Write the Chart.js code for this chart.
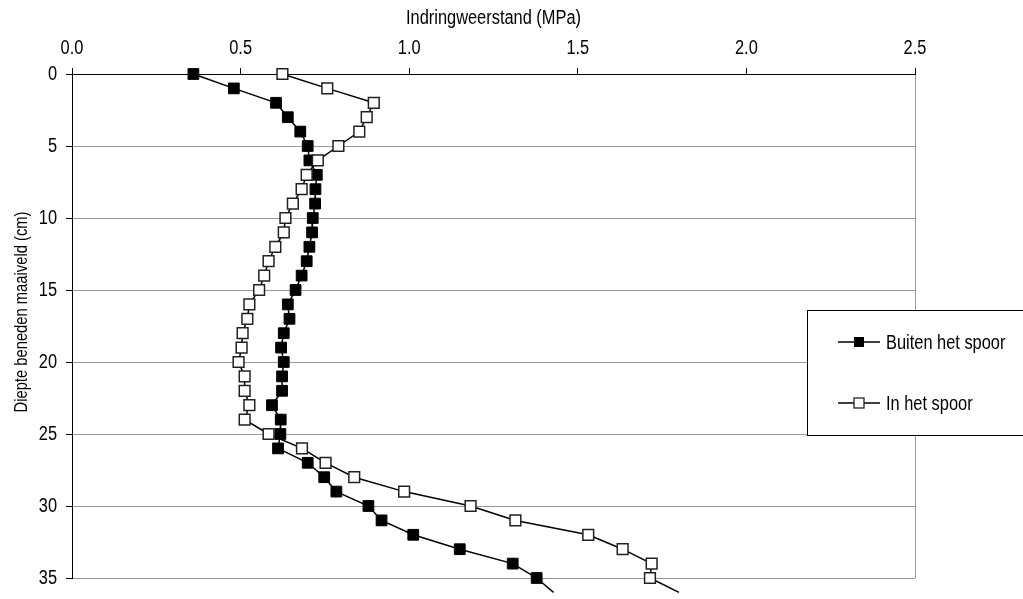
<!DOCTYPE html>
<html>
<head>
<meta charset="utf-8">
<script src="https://cdn.jsdelivr.net/npm/chart.js@4/dist/chart.umd.min.js"></script>
<style>
  html, body { margin: 0; padding: 0; background: #fff; overflow: hidden; }
  #wrap { width: 1023px; height: 599px; position: relative; }
</style>
</head>
<body>
<div id="wrap"><canvas id="c" width="1023" height="599"></canvas></div>
<script>
// ---- Data ----
const depthCm = [0,1,2,3,4,5,6,7,8,9,10,11,12,13,14,15,16,17,18,19,20,21,22,23,24,25,26,27,28,29,30,31,32,33,34,35,36];
const buitenHetSpoor = [0.360,0.480,0.605,0.640,0.677,0.699,0.704,0.726,0.722,0.721,0.714,0.712,0.704,0.696,0.681,0.663,0.640,0.645,0.628,0.620,0.628,0.623,0.623,0.593,0.619,0.618,0.611,0.699,0.748,0.784,0.879,0.918,1.012,1.150,1.307,1.378,1.428];
const inHetSpoor = [0.624,0.757,0.895,0.874,0.852,0.790,0.729,0.696,0.681,0.655,0.633,0.628,0.603,0.583,0.570,0.555,0.526,0.520,0.506,0.503,0.494,0.512,0.512,0.526,0.512,0.583,0.682,0.752,0.837,0.985,1.182,1.315,1.531,1.633,1.719,1.714,1.800];
const seriesNames = ['Buiten het spoor', 'In het spoor'];
const xTitle = 'Indringweerstand (MPa)';
const yTitle = 'Diepte beneden maaiveld (cm)';
const xTicks = [0, 0.5, 1.0, 1.5, 2.0, 2.5];
const yTicks = [0, 5, 10, 15, 20, 25, 30, 35];

const FONT = "'Liberation Sans', Arial, sans-serif";
const NARROW = 0.82; // emulate a narrow (condensed) face

const canvas = document.getElementById('c');
const ctx2d = canvas.getContext('2d');
// condense all text horizontally around its anchor point
(function () {
  const orig = ctx2d.fillText;
  ctx2d.fillText = function (t, x, y, mw) {
    this.save();
    this.translate(x, y);
    this.scale(NARROW, 1);
    if (mw === undefined) orig.call(this, t, 0, 0);
    else orig.call(this, t, 0, 0, mw / NARROW);
    this.restore();
  };
})();

const toPoints = (vals) => vals.map((v, i) => ({ x: v, y: depthCm[i] }));
const radii = depthCm.map(d => d <= 35 ? 7.6 : 0);

// custom plugin: y title + legend box
const extras = {
  id: 'extras',
  afterDraw(chart) {
    const ctx = chart.ctx;
    ctx.save();
    ctx.fillStyle = '#000';
    ctx.font = '18px ' + FONT;
    ctx.textAlign = 'center';
    ctx.textBaseline = 'middle';
    ctx.translate(22, 312);
    ctx.rotate(-Math.PI / 2);
    ctx.fillText(yTitle, 0, 0);
    ctx.restore();

    ctx.save();
    ctx.strokeStyle = '#000';
    ctx.lineWidth = 1;
    ctx.fillStyle = '#fff';
    ctx.fillRect(807.5, 310.5, 260, 125);
    ctx.strokeRect(807.5, 310.5, 260, 125);
    const rows = [342, 403];
    rows.forEach((y, i) => {
      ctx.beginPath();
      ctx.strokeStyle = '#000';
      ctx.lineWidth = 1.5;
      ctx.moveTo(838, y); ctx.lineTo(880, y);
      ctx.stroke();
      if (i === 0) {
        ctx.fillStyle = '#000';
        ctx.fillRect(854, y - 5, 10, 10);
      } else {
        ctx.fillStyle = '#fff';
        ctx.fillRect(854, y - 5, 10, 10);
        ctx.strokeStyle = '#222';
        ctx.lineWidth = 1.3;
        ctx.strokeRect(854, y - 5, 10, 10);
      }
      ctx.fillStyle = '#000';
      ctx.font = '20px ' + FONT;
      ctx.textAlign = 'left';
      ctx.textBaseline = 'middle';
      ctx.fillText(seriesNames[i], 886, y + 1);
    });
    ctx.restore();
  }
};

new Chart(ctx2d, {
  type: 'scatter',
  data: {
    datasets: [
      {
        label: seriesNames[0],
        data: toPoints(buitenHetSpoor),
        showLine: true,
        borderColor: '#000',
        borderWidth: 1.5,
        pointStyle: 'rect',
        pointRadius: radii,
        pointBackgroundColor: '#000',
        pointBorderColor: '#000',
        pointBorderWidth: 1,
        clip: false,
        order: 1
      },
      {
        label: seriesNames[1],
        data: toPoints(inHetSpoor),
        showLine: true,
        borderColor: '#000',
        borderWidth: 1.5,
        pointStyle: 'rect',
        pointRadius: radii,
        pointBackgroundColor: '#fff',
        pointBorderColor: '#222',
        pointBorderWidth: 1.5,
        clip: false,
        order: 0
      }
    ]
  },
  options: {
    responsive: false,
    animation: false,
    events: [],
    layout: { padding: { left: 0, top: 0, right: 108, bottom: 10 } },
    plugins: { legend: { display: false }, tooltip: { enabled: false } },
    scales: {
      x: {
        type: 'linear',
        position: 'top',
        min: 0, max: 2.5,
        afterBuildTicks: (s) => { s.ticks = xTicks.map(v => ({ value: v })); },
        afterFit: (s) => { s.height = 74; },
        ticks: {
          color: '#000',
          font: { family: FONT, size: 20 },
          padding: 8,
          maxRotation: 0,
          callback: (v) => Number(v).toFixed(1)
        },
        grid: {
          drawOnChartArea: true,
          color: (c) => (c.tick && c.tick.value === 2.5) ? '#999' : 'rgba(0,0,0,0)',
          tickColor: '#000',
          tickLength: 6,
          lineWidth: 1
        },
        border: { display: true, color: '#000', width: 1 },
        title: {
          display: true,
          text: xTitle,
          color: '#000',
          font: { family: FONT, size: 20 },
          padding: { top: 6, bottom: 0 }
        }
      },
      y: {
        type: 'linear',
        reverse: true,
        min: 0, max: 35,
        afterBuildTicks: (s) => { s.ticks = yTicks.map(v => ({ value: v })); },
        afterFit: (s) => { s.width = 72; },
        ticks: {
          color: '#000',
          font: { family: FONT, size: 20 },
          padding: 9
        },
        grid: {
          color: (c) => (c.tick && c.tick.value === 0) ? 'rgba(0,0,0,0)' : '#999',
          tickColor: '#000',
          tickLength: 6,
          lineWidth: 1
        },
        border: { display: true, color: '#000', width: 1 }
      }
    }
  },
  plugins: [extras]
});
</script>
</body>
</html>
